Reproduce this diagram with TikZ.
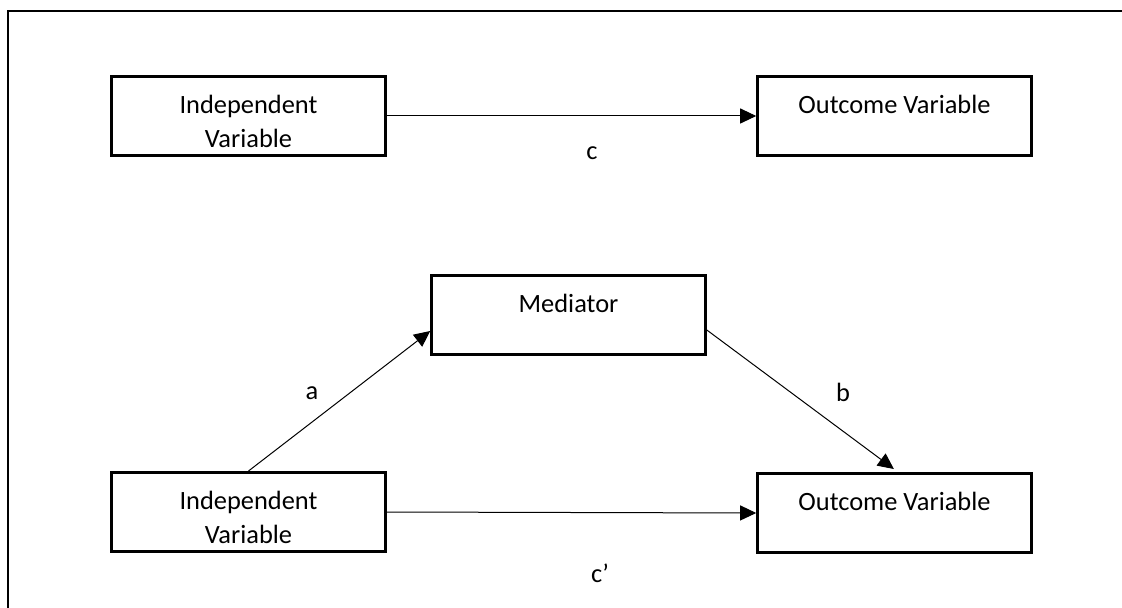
\documentclass[tikz,border=0pt]{standalone}
\usepackage{fontspec}
\setmainfont{Carlito}
\usetikzlibrary{arrows.meta}

\tikzset{
  varbox/.style={draw, line width=1.3pt, minimum width=137pt, minimum height=39.7pt, inner sep=0pt},
  boxtext/.style={anchor=north, inner sep=0pt, align=center, yshift=-10.1pt},
  link/.style={line width=0.5pt, -{Triangle[length=8pt, width=7.5pt]}},
  pathlabel/.style={inner sep=0pt}
}

\begin{document}
\begin{tikzpicture}[x=0.5pt, y=-0.5pt, font=\fontsize{13.2pt}{17pt}\selectfont]
  \useasboundingbox (0,0) rectangle (1122,608);

  % open frame: left and top rules
  \draw[line width=1.3pt] (8,608) -- (8,11) -- (1122,11);

  % total effect model
  \node[varbox, label={[boxtext]north:Independent\\Variable}] (ivA) at (248.5,116) {};
  \node[varbox, label={[boxtext]north:Outcome Variable}] (ovA) at (894.5,116) {};
  \draw[link] (ivA.east) -- (ovA.west);
  \node[pathlabel] (lc) at (592,153) {c};

  % mediation model
  \node[varbox, label={[boxtext]north:Mediator}] (med) at (568.5,315) {};
  \node[varbox, label={[boxtext]north:Independent\\Variable}] (ivB) at (248.5,512) {};
  \node[varbox, label={[boxtext]north:Outcome Variable}] (ovB) at (894.5,513) {};

  \draw[link] (ivB.north) -- ([yshift=-8pt]med.west);
  \draw[link, shorten >=2.5pt] ([yshift=-7.5pt]med.east) -- ([xshift=1.7pt]ovB.north);
  \draw[link] (ivB.east) -- (ovB.west);

  \node[pathlabel] (la) at (312,393) {a};
  \node[pathlabel] (lb) at (843,392) {b};
  \node[pathlabel] (lcp) at (600,573) {c’};
\end{tikzpicture}
\end{document}
